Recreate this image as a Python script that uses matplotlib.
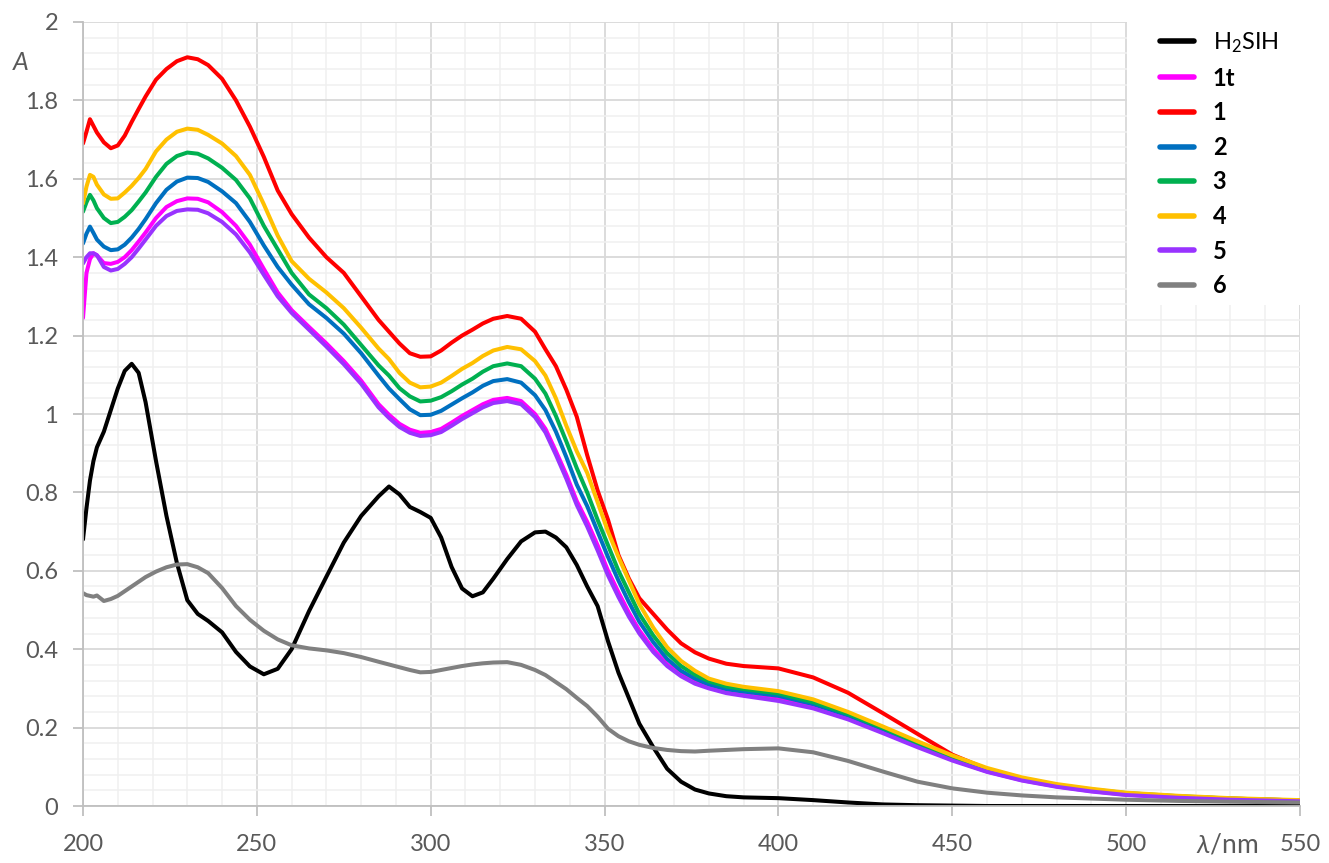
import matplotlib
matplotlib.use("Agg")
import matplotlib.pyplot as plt
from matplotlib.patches import Rectangle
from matplotlib.ticker import MultipleLocator

plt.rcParams['font.family'] = ['Lato', 'DejaVu Sans']
plt.rcParams['mathtext.fontset'] = 'custom'
plt.rcParams['mathtext.rm'] = 'Lato'
plt.rcParams['mathtext.it'] = 'Lato:italic'
plt.rcParams['mathtext.bf'] = 'Lato:bold'

wavelength = [200, 201, 202, 203, 204, 206, 208, 210, 212, 214, 216, 218, 221, 224, 227, 230,
              233, 236, 240, 244, 248, 252, 256, 260, 265, 270, 275, 280, 285, 288, 291, 294,
              297, 300, 303, 306, 309, 312, 315, 318, 322, 326, 330, 333, 336, 339, 342, 345,
              348, 351, 354, 357, 360, 364, 368, 372, 376, 380, 385, 390, 400, 410, 420, 430,
              440, 450, 460, 470, 480, 490, 500, 515, 530, 550]

h2sih = [0.68, 0.76, 0.83, 0.88, 0.915, 0.955, 1.01, 1.065, 1.11, 1.128, 1.105, 1.03, 0.88, 0.74, 0.62, 0.525,
         0.49, 0.472, 0.443, 0.393, 0.356, 0.336, 0.35, 0.40, 0.497, 0.585, 0.672, 0.74, 0.79, 0.815, 0.795, 0.763,
         0.75, 0.735, 0.685, 0.61, 0.555, 0.535, 0.545, 0.58, 0.63, 0.675, 0.698, 0.70, 0.685, 0.66, 0.615, 0.56,
         0.51, 0.42, 0.34, 0.275, 0.21, 0.15, 0.095, 0.062, 0.042, 0.032, 0.025, 0.022, 0.02, 0.015, 0.009, 0.004,
         0.002, 0.001, 0.0, 0.0, 0.0, 0.0, 0.0, 0.0, 0.0, 0.0]

s1t = [1.245, 1.36, 1.395, 1.41, 1.405, 1.385, 1.383, 1.388, 1.40, 1.418, 1.44, 1.463, 1.50, 1.528, 1.543, 1.55,
       1.549, 1.54, 1.515, 1.48, 1.432, 1.37, 1.31, 1.265, 1.222, 1.18, 1.135, 1.085, 1.025, 0.998, 0.975, 0.96,
       0.952, 0.954, 0.962, 0.978, 0.995, 1.01, 1.025, 1.036, 1.041, 1.033, 1.0, 0.962, 0.905, 0.845, 0.778, 0.725,
       0.665, 0.60, 0.545, 0.493, 0.448, 0.40, 0.362, 0.335, 0.315, 0.302, 0.29, 0.283, 0.272, 0.253, 0.225, 0.19,
       0.153, 0.118, 0.088, 0.066, 0.05, 0.038, 0.029, 0.022, 0.017, 0.012]

s1 = [1.69, 1.72, 1.752, 1.735, 1.718, 1.693, 1.678, 1.685, 1.71, 1.745, 1.778, 1.81, 1.853, 1.88, 1.90, 1.91,
      1.905, 1.89, 1.855, 1.80, 1.733, 1.656, 1.57, 1.51, 1.45, 1.40, 1.36, 1.30, 1.24, 1.21, 1.18, 1.155,
      1.146, 1.147, 1.162, 1.182, 1.20, 1.215, 1.231, 1.243, 1.25, 1.243, 1.21, 1.165, 1.122, 1.062, 0.993, 0.895,
      0.805, 0.73, 0.64, 0.58, 0.53, 0.49, 0.45, 0.415, 0.392, 0.376, 0.363, 0.357, 0.351, 0.328, 0.289, 0.237,
      0.184, 0.131, 0.094, 0.07, 0.052, 0.041, 0.032, 0.024, 0.019, 0.014]

s2 = [1.435, 1.46, 1.478, 1.462, 1.445, 1.427, 1.418, 1.42, 1.432, 1.45, 1.472, 1.497, 1.538, 1.572, 1.593, 1.603,
      1.602, 1.592, 1.568, 1.538, 1.49, 1.43, 1.375, 1.33, 1.28, 1.245, 1.205, 1.155, 1.098, 1.065, 1.038, 1.012,
      0.997, 0.998, 1.008, 1.024, 1.04, 1.055, 1.072, 1.084, 1.089, 1.08, 1.048, 1.01, 0.955, 0.89, 0.82, 0.765,
      0.70, 0.635, 0.575, 0.52, 0.47, 0.418, 0.375, 0.345, 0.325, 0.31, 0.298, 0.292, 0.281, 0.26, 0.231, 0.196,
      0.158, 0.122, 0.092, 0.069, 0.052, 0.04, 0.031, 0.024, 0.018, 0.013]

s3 = [1.516, 1.54, 1.559, 1.545, 1.525, 1.50, 1.487, 1.49, 1.503, 1.52, 1.542, 1.565, 1.605, 1.638, 1.658, 1.667,
      1.664, 1.652, 1.628, 1.597, 1.55, 1.48, 1.42, 1.36, 1.305, 1.27, 1.228, 1.176, 1.124, 1.098, 1.066, 1.045,
      1.032, 1.034, 1.043, 1.058, 1.075, 1.09, 1.108, 1.122, 1.129, 1.122, 1.09, 1.052, 0.995, 0.93, 0.862, 0.80,
      0.73, 0.665, 0.60, 0.545, 0.49, 0.435, 0.39, 0.357, 0.335, 0.318, 0.305, 0.298, 0.287, 0.265, 0.235, 0.199,
      0.161, 0.125, 0.094, 0.071, 0.054, 0.042, 0.033, 0.025, 0.019, 0.014]

s4 = [1.537, 1.58, 1.61, 1.605, 1.585, 1.56, 1.549, 1.55, 1.565, 1.582, 1.602, 1.625, 1.67, 1.70, 1.72, 1.728,
      1.725, 1.712, 1.69, 1.658, 1.61, 1.535, 1.455, 1.39, 1.345, 1.31, 1.27, 1.22, 1.167, 1.14, 1.105, 1.08,
      1.068, 1.07, 1.08, 1.097, 1.115, 1.13, 1.148, 1.162, 1.171, 1.165, 1.135, 1.098, 1.04, 0.97, 0.905, 0.85,
      0.775, 0.70, 0.635, 0.575, 0.515, 0.455, 0.405, 0.37, 0.345, 0.325, 0.312, 0.304, 0.293, 0.272, 0.24, 0.203,
      0.165, 0.129, 0.097, 0.073, 0.056, 0.044, 0.034, 0.026, 0.02, 0.015]

s5 = [1.384, 1.40, 1.41, 1.41, 1.405, 1.375, 1.366, 1.37, 1.383, 1.40, 1.422, 1.445, 1.48, 1.505, 1.518, 1.522,
      1.521, 1.512, 1.49, 1.458, 1.412, 1.355, 1.30, 1.258, 1.215, 1.172, 1.127, 1.077, 1.017, 0.99, 0.967, 0.952,
      0.944, 0.946, 0.954, 0.97, 0.987, 1.002, 1.017, 1.028, 1.033, 1.025, 0.992, 0.953, 0.896, 0.835, 0.768, 0.713,
      0.652, 0.588, 0.533, 0.483, 0.44, 0.393, 0.357, 0.331, 0.312, 0.30, 0.288, 0.281, 0.268, 0.249, 0.221, 0.186,
      0.15, 0.116, 0.087, 0.065, 0.049, 0.037, 0.028, 0.021, 0.016, 0.012]

s6 = [0.543, 0.538, 0.536, 0.534, 0.537, 0.523, 0.528, 0.536, 0.548, 0.56, 0.572, 0.584, 0.598, 0.609, 0.616, 0.617,
      0.609, 0.594, 0.556, 0.51, 0.475, 0.447, 0.425, 0.41, 0.402, 0.397, 0.39, 0.38, 0.368, 0.361, 0.354, 0.347,
      0.341, 0.342, 0.347, 0.352, 0.357, 0.361, 0.364, 0.366, 0.367, 0.36, 0.347, 0.334, 0.316, 0.298, 0.276, 0.255,
      0.228, 0.197, 0.178, 0.165, 0.156, 0.148, 0.143, 0.14, 0.139, 0.141, 0.143, 0.145, 0.147, 0.137, 0.115, 0.088,
      0.062, 0.045, 0.034, 0.027, 0.022, 0.019, 0.016, 0.013, 0.011, 0.009]

series_labels = ["H$_2$SIH", "1t", "1", "2", "3", "4", "5", "6"]
series_values = [h2sih, s1t, s1, s2, s3, s4, s5, s6]
series_colors = ["#000000", "#FF00FF", "#FF0000", "#0070C0", "#00B050", "#FFC000", "#9933FF", "#808080"]

x_ticks = [200, 250, 300, 350, 400, 450, 500, 550]
y_ticks = [0, 0.2, 0.4, 0.6, 0.8, 1.0, 1.2, 1.4, 1.6, 1.8, 2.0]
y_tick_labels = ["0", "0.2", "0.4", "0.6", "0.8", "1", "1.2", "1.4", "1.6", "1.8", "2"]

W, H = 1329, 863
fig = plt.figure(figsize=(W / 100, H / 100), dpi=100)
L, R, T, B = 83, 1300, 22, 806
ax = fig.add_axes([L / W, 1 - B / H, (R - L) / W, (B - T) / H])

ax.set_xlim(200, 550)
ax.set_ylim(0, 2)
ax.xaxis.set_major_locator(MultipleLocator(50))
ax.xaxis.set_minor_locator(MultipleLocator(10))
ax.yaxis.set_minor_locator(MultipleLocator(0.04))
ax.set_xticks(x_ticks)
ax.set_yticks(y_ticks)
ax.set_yticklabels(y_tick_labels)
ax.grid(which='major', color='#d9d9d9', linewidth=1.3, zorder=0)
ax.grid(which='minor', color='#f0f0f0', linewidth=1.1, zorder=0)
ax.set_axisbelow(True)

for s in ['top', 'right']:
    ax.spines[s].set_visible(False)
for s in ['left', 'bottom']:
    ax.spines[s].set_color('#bfbfbf')
    ax.spines[s].set_linewidth(1.3)

ax.tick_params(which='major', direction='out', length=7, width=1.3, color='#bfbfbf',
               labelsize=17, labelcolor='#595959')
ax.tick_params(axis='y', which='major', pad=11)
ax.tick_params(axis='x', which='major', pad=13)
ax.tick_params(which='minor', length=0)

handles = []
for lab, vals, col in zip(series_labels, series_values, series_colors):
    h, = ax.plot(wavelength, vals, color=col, linewidth=2.9, label=lab, solid_joinstyle='round',
                 solid_capstyle='round', clip_on=True)
    handles.append(h)

# white backdrop behind legend
ax.add_patch(Rectangle((0.858, 0.639), 0.142, 0.361, transform=ax.transAxes,
                       facecolor='white', edgecolor='none', zorder=1.5))

leg = ax.legend(handles=handles, loc='upper left', bbox_to_anchor=(1143 / W, 1 - 14 / H),
                bbox_transform=fig.transFigure, frameon=False, fontsize=17,
                handlelength=1.45, handletextpad=0.8, labelspacing=0.49, borderpad=0.2)
for i, t in enumerate(leg.get_texts()):
    t.set_color('black')
    if i > 0:
        t.set_fontweight('bold')
for line in leg.get_lines():
    line.set_linewidth(4)
    line.set_solid_capstyle('round')

fig.text(20.5 / W, 1 - 63 / H, "A", fontsize=18, style='italic', color='#595959',
         ha='center', va='center')
fig.text(1227 / W, 1 - 845 / H, r"$\mathit{\lambda}$/nm", fontsize=19, color='#595959',
         ha='center', va='center')

fig.savefig("out.png", dpi=100)
